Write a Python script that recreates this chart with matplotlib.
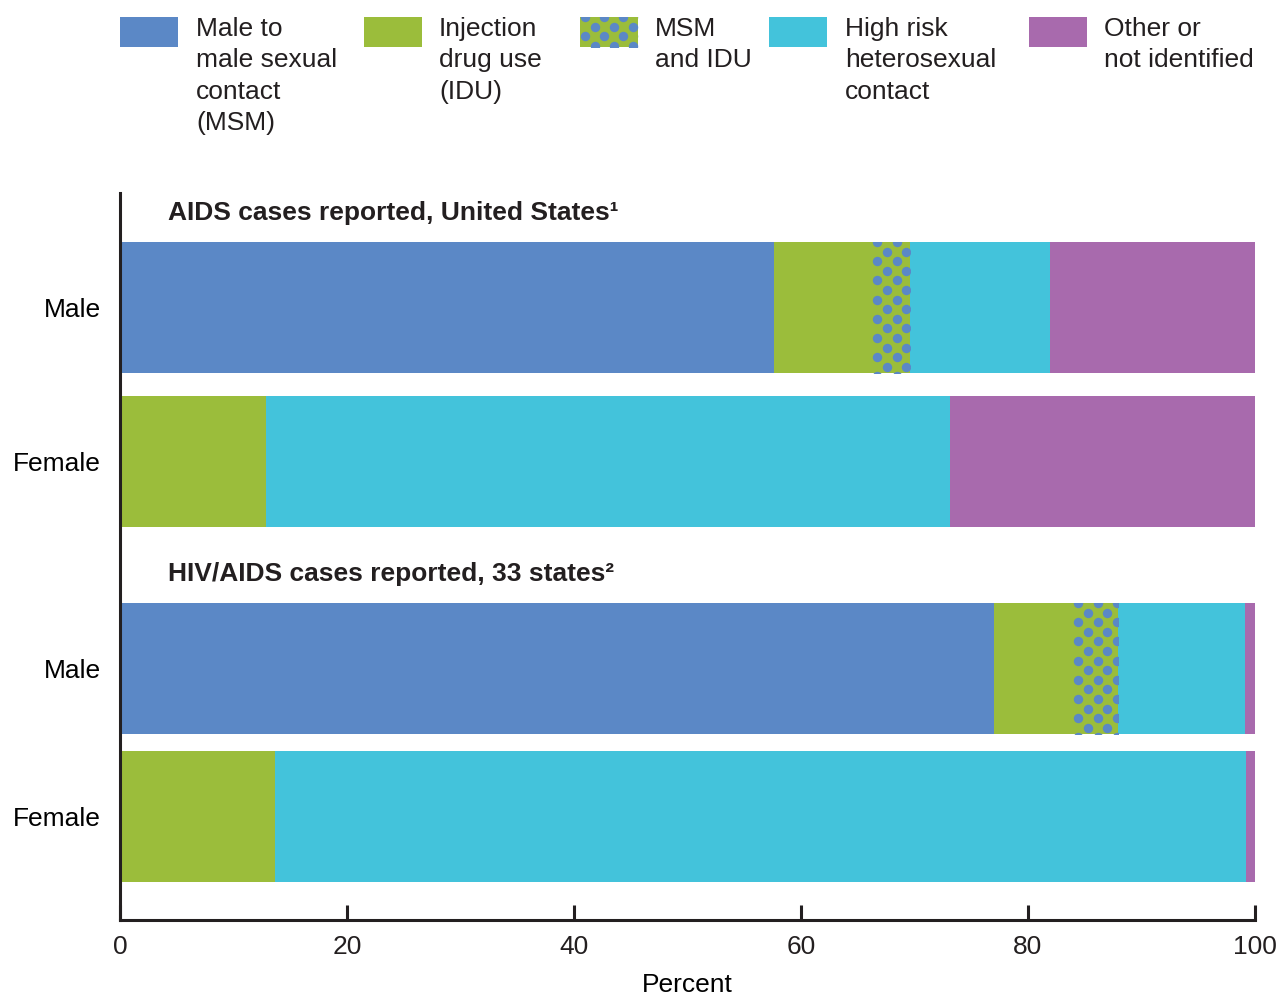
import matplotlib.pyplot as plt
import numpy as np
from matplotlib.patches import Rectangle

plt.rcParams['font.family'] = ['Liberation Sans', 'DejaVu Sans']
plt.rcParams['text.color'] = '#231f20'

# Datos (porcentaje)
categorias = ['Male', 'Female', 'Male', 'Female']
msm = [57.6, 0.0, 77.0, 0.0]
idu = [8.7, 12.9, 7.0, 13.7]
msm_idu = [3.3, 0.0, 3.9, 0.0]
hetero = [12.3, 60.2, 11.2, 85.5]
otro = [18.1, 26.9, 0.9, 0.8]

grupos = ['AIDS cases reported, United States\u00b9',
          'HIV/AIDS cases reported, 33 states\u00b2']

etiquetas = ['Male to\nmale sexual\ncontact\n(MSM)', 'Injection\ndrug use\n(IDU)',
             'MSM\nand IDU', 'High risk\nheterosexual\ncontact', 'Other or\nnot identified']

c_msm = '#5b88c6'
c_idu = '#9bbd3b'
c_het = '#43c3db'
c_otro = '#a86aad'

# posiciones de las barras (alto de barra = 1)
y_pos = [0, 1.176, 2.756, 3.885]
y_grupo = [-0.725, 2.035]


def puntos(ax, x0, y0, w, h):
    # relleno verde con puntos azules en diagonal
    rect = Rectangle((x0, y0), w, h, facecolor=c_idu, edgecolor='none', zorder=2)
    ax.add_patch(rect)
    p = ax.transData.transform([[x0, y0], [x0 + w, y0 + h]])
    xmin, xmax = sorted(p[:, 0])
    ymin, ymax = sorted(p[:, 1])
    px = []
    py = []
    for i, yy in enumerate(np.arange(ymax, ymin - 10, -9.6)):
        for xx in np.arange(xmin + 5 + (i % 2) * 9.6, xmax + 10, 19.2):
            px.append(xx)
            py.append(yy)
    d = ax.transData.inverted().transform(np.column_stack([px, py]))
    sc = ax.scatter(d[:, 0], d[:, 1], s=46, color=c_msm, linewidths=0, zorder=3)
    sc.set_clip_path(rect)


fig = plt.figure(figsize=(12.8, 10), dpi=100)
ax = fig.add_axes([0.09375, 0.08, 0.8867, 0.727])
ax.set_xlim(0, 100)
ax.set_ylim(4.676, -0.874)

izq = np.zeros(len(categorias))
ax.barh(y_pos, msm, left=izq, height=1.0, color=c_msm, zorder=2)
izq = izq + np.array(msm)
ax.barh(y_pos, idu, left=izq, height=1.0, color=c_idu, zorder=2)
izq = izq + np.array(idu)
for i in range(len(categorias)):
    if msm_idu[i] > 0:
        puntos(ax, izq[i], y_pos[i] - 0.5, msm_idu[i], 1.0)
izq = izq + np.array(msm_idu)
ax.barh(y_pos, hetero, left=izq, height=1.0, color=c_het, zorder=2)
izq = izq + np.array(hetero)
ax.barh(y_pos, otro, left=izq, height=1.0, color=c_otro, zorder=2)

for g, yg in zip(grupos, y_grupo):
    ax.text(4.2, yg, g, fontsize=19, fontweight='bold', ha='left', va='center')

ax.set_yticks(y_pos)
ax.set_yticklabels(categorias, fontsize=19)
ax.tick_params(axis='y', length=0, pad=14)
ax.set_xticks([0, 20, 40, 60, 80, 100])
ax.tick_params(axis='x', direction='in', length=11, width=2.2, pad=11, labelsize=19,
               colors='#231f20')
ax.set_xlabel('Percent', fontsize=19, labelpad=10)
for s in ['top', 'right']:
    ax.spines[s].set_visible(False)
for s in ['left', 'bottom']:
    ax.spines[s].set_linewidth(2.2)
    ax.spines[s].set_color('#231f20')

# leyenda hecha a mano arriba
lg = fig.add_axes([0, 0, 1, 1], zorder=-1)
lg.set_xlim(0, 1280)
lg.set_ylim(1000, 0)
lg.axis('off')
cajas_x = [120, 364, 580, 769, 1029]
texto_x = [196, 439, 655, 845, 1104]
colores = [c_msm, c_idu, None, c_het, c_otro]
for cx, tx, col, et in zip(cajas_x, texto_x, colores, etiquetas):
    if col is None:
        puntos(lg, cx, 17, 58, 30)
    else:
        lg.add_patch(Rectangle((cx, 17), 58, 30, facecolor=col, edgecolor='none'))
    lg.text(tx, 17, et, fontsize=19, ha='left', va='top', linespacing=1.39)

fig.savefig('out.png', dpi=100)
